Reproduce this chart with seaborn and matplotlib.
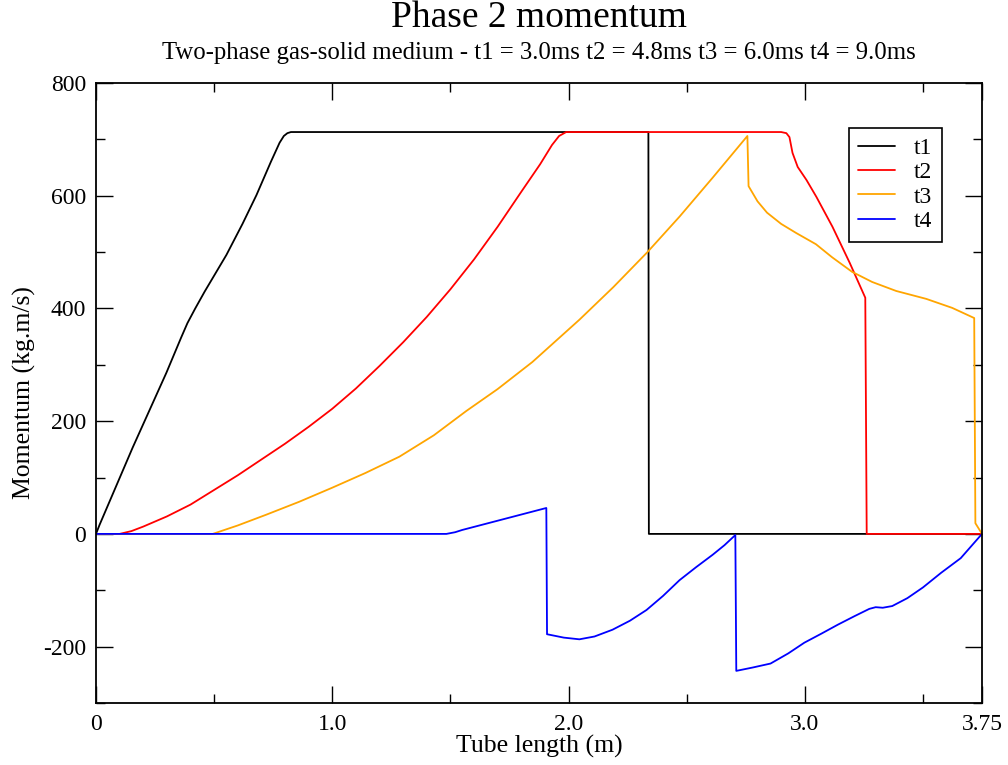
import numpy as np
import pandas as pd
import matplotlib
matplotlib.use("Agg")
import matplotlib.pyplot as plt
import seaborn as sns
from matplotlib.ticker import MultipleLocator, FixedLocator
from matplotlib.lines import Line2D

sns.set_style("ticks")
plt.rcParams['font.family'] = ['Liberation Serif', 'DejaVu Serif']
for k in ['text.color', 'axes.labelcolor', 'xtick.color', 'ytick.color', 'axes.edgecolor']:
    plt.rcParams[k] = 'black'

series_names = ["t1", "t2", "t3", "t4"]
series_colors = ["#000000", "#ff0000", "#ffa500", "#0000ff"]

t1_x = [0.0, 0.015, 0.155, 0.298, 0.36, 0.387, 0.42, 0.46, 0.552, 0.62, 0.679, 0.74, 0.777, 0.795, 0.81, 0.825,
        2.338, 2.340, 3.75]
t1_y = [0, 16, 153, 286, 348, 374, 400, 430, 495, 550, 601, 660, 694, 706, 711, 713,
        713, 0, 0]

t2_x = [0.0, 0.10, 0.15, 0.20, 0.30, 0.40, 0.50, 0.60, 0.70, 0.80, 0.90, 1.00, 1.10, 1.20, 1.30, 1.40,
        1.50, 1.60, 1.70, 1.80, 1.88, 1.93, 1.96, 1.99, 2.90, 2.922, 2.935, 2.948, 2.97, 3.007, 3.049,
        3.117, 3.19, 3.256, 3.262, 3.75]
t2_y = [0, 0, 5, 13, 31, 52, 78, 104, 132, 160, 190, 222, 258, 298, 340, 385,
        434, 487, 545, 607, 656, 690, 706, 713, 713, 711, 704, 676, 651, 628, 598,
        545, 481, 419, 0, 0]

t3_x = [0.0, 0.494, 0.60, 0.72, 0.86, 1.00, 1.14, 1.284, 1.43, 1.567, 1.70, 1.847, 2.046, 2.19, 2.334,
        2.47, 2.61, 2.757, 2.762, 2.80, 2.84, 2.90, 2.963, 3.047, 3.115, 3.2, 3.285, 3.387, 3.514,
        3.624, 3.717, 3.722, 3.75]
t3_y = [0, 0, 15, 34, 57, 82, 108, 137, 175, 218, 257, 305, 380, 438, 500,
        563, 632, 706, 617, 590, 570, 550, 534, 514, 491, 465, 447, 431, 417,
        401, 383, 19, 0]

t4_x = [0.0, 1.483, 1.52, 1.55, 1.906, 1.909, 1.98, 2.046, 2.11, 2.186, 2.26, 2.33, 2.40, 2.47, 2.54,
        2.61, 2.66, 2.706, 2.710, 2.78, 2.855, 2.93, 2.998, 3.07, 3.14, 3.21, 3.273, 3.30, 3.33,
        3.37, 3.434, 3.50, 3.577, 3.66, 3.75]
t4_y = [0, 0, 3, 7, 46, -178, -184, -187, -182, -170, -154, -135, -110, -82, -59,
        -37, -20, -2, -243, -237, -230, -212, -193, -177, -161, -146, -133, -130, -131,
        -128, -114, -95, -69, -43, 0]

frames = []
for name, xs, ys in zip(series_names, [t1_x, t2_x, t3_x, t4_x], [t1_y, t2_y, t3_y, t4_y]):
    frames.append(pd.DataFrame({"x": xs, "y": ys, "series": name}))
df = pd.concat(frames, ignore_index=True)

fig = plt.figure(figsize=(10.08, 7.65), dpi=100)
ax = fig.add_axes([96 / 1008, 62 / 765, 886 / 1008, 620 / 765])

sns.lineplot(data=df, x="x", y="y", hue="series", palette=dict(zip(series_names, series_colors)),
             sort=False, estimator=None, linewidth=1.3, ax=ax, legend=False)

ax.set_xlim(0, 3.75)
ax.set_ylim(-300, 800)
ax.xaxis.set_major_locator(FixedLocator([0, 1.0, 2.0, 3.0, 3.75]))
ax.set_xticklabels(["0", "1.0", "2.0", "3.0", "3.75"])
ax.xaxis.set_minor_locator(FixedLocator([0.5, 1.5, 2.5, 3.5]))
ax.yaxis.set_major_locator(MultipleLocator(200))
ax.yaxis.set_minor_locator(MultipleLocator(100))
ax.set_yticklabels([f"{int(v)}" for v in ax.get_yticks()])

ax.tick_params(which="both", direction="in", top=True, right=True, labelsize=17, width=1.0, colors="black")
ax.tick_params(axis="x", which="both", pad=8)
ax.tick_params(axis="y", which="both", pad=7)
ax.tick_params(which="major", length=12)
ax.tick_params(which="minor", length=6.5)
for s in ax.spines.values():
    s.set_linewidth(1.3)
    s.set_color("black")

ax.set_xlabel("Tube length (m)", fontsize=18.5, labelpad=0)
ax.set_ylabel("Momentum (kg.m/s)", fontsize=18.5, labelpad=5)

fig.text(539 / 1008, 1 - 18 / 765, "Phase 2 momentum", ha="center", va="center", fontsize=27)
fig.text(539 / 1008, 1 - 53 / 765, "Two-phase gas-solid medium - t1 = 3.0ms t2 = 4.8ms t3 = 6.0ms t4 = 9.0ms",
         ha="center", va="center", fontsize=17.8)

handles = [Line2D([], [], color=c, lw=1.3) for c in series_colors]
leg = ax.legend(handles, series_names, loc="upper left", bbox_to_anchor=((849 - 96) / 886, (703 - 128) / 620),
                fontsize=17, frameon=True, fancybox=False, edgecolor="black", framealpha=1,
                handlelength=1.55, handletextpad=0.8, borderpad=0.4, labelspacing=0.12, borderaxespad=0)
leg.get_frame().set_linewidth(1.2)

fig.savefig("out.png", dpi=100)
